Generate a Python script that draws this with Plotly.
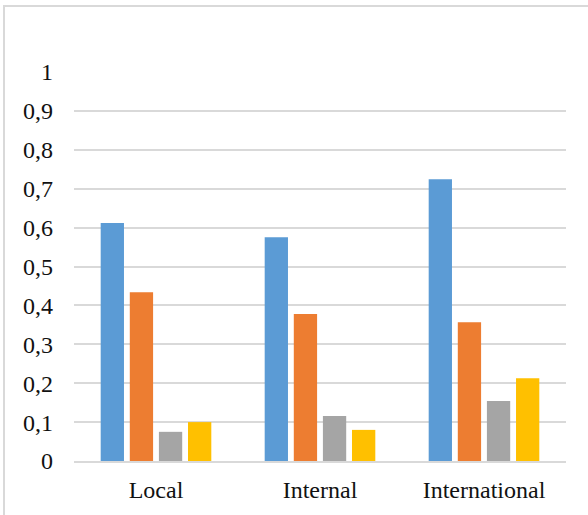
import plotly.graph_objects as go

categories = ["Local", "Internal", "International"]
series_a = [0.612, 0.575, 0.724]
series_b = [0.434, 0.378, 0.357]
series_c = [0.075, 0.116, 0.154]
series_d = [0.100, 0.080, 0.213]
colors = ["#5B9BD5", "#ED7D31", "#A5A5A5", "#FFC000"]
y_ticks = [round(i * 0.1, 1) for i in range(11)]

fig = go.Figure()
for vals, col in zip([series_a, series_b, series_c, series_d], colors):
    fig.add_trace(go.Bar(
        x=categories, y=vals, marker=dict(color=col, line=dict(width=0)),
        showlegend=False, hoverinfo="skip",
    ))

L, R, T, B = 74, 22, 72, 54
W, H = 588, 515
pw, ph = W - L - R, H - T - B

# light gray chart frame (top and left edges visible)
fig.add_shape(type="rect", xref="paper", yref="paper",
              x0=(4 - L) / pw, x1=1.2, y0=-0.5, y1=(H - B - 6) / ph,
              line=dict(color="#d9d9d9", width=2), fillcolor="rgba(0,0,0,0)",
              layer="below")

fig.update_layout(
    width=W, height=H,
    margin=dict(l=L, r=R, t=T, b=B),
    paper_bgcolor="white", plot_bgcolor="white",
    barmode="group", bargap=0.29, bargroupgap=0.2,
    separators=",.",
    font=dict(family="Liberation Serif", size=24, color="#111111"),
    xaxis=dict(showgrid=False, showline=True, linecolor="#d9d9d9", linewidth=1.5,
               ticks="", ticklabelstandoff=6, tickfont=dict(size=24),
               automargin=False),
    yaxis=dict(range=[0, 1], tickvals=y_ticks, showgrid=True, gridcolor="#d9d9d9",
               gridwidth=1.5, zeroline=False, showline=False, ticks="",
               ticklabelstandoff=20, tickfont=dict(size=24), automargin=False),
)

fig.write_html("out.html")
